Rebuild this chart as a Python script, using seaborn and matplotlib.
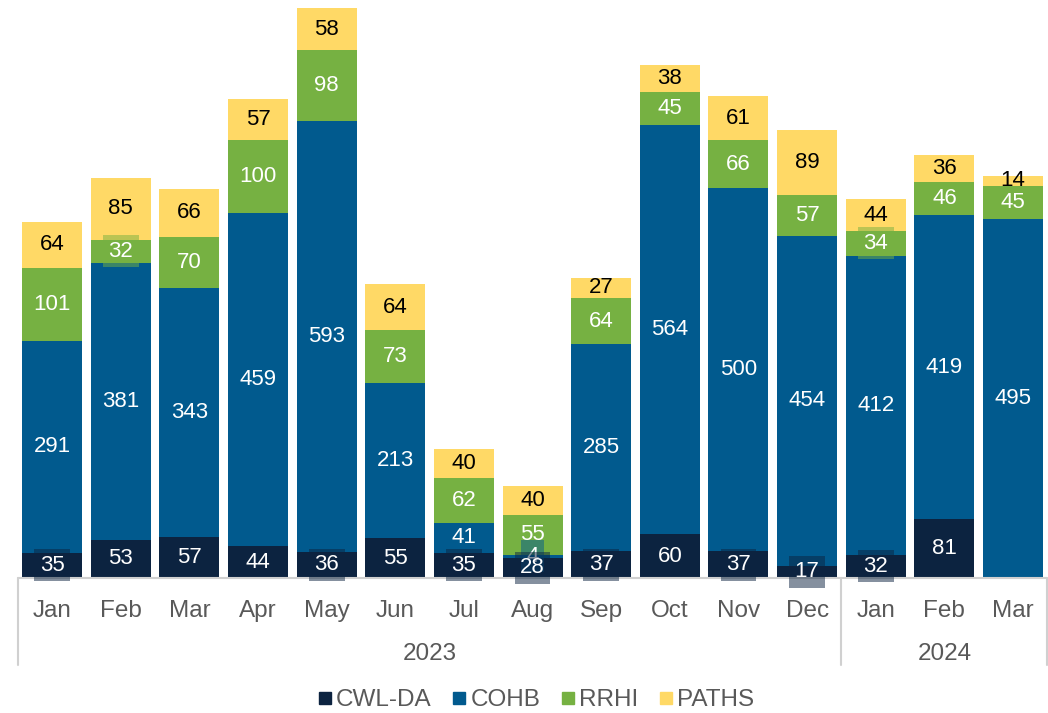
import pandas as pd
import numpy as np
import matplotlib.pyplot as plt
import matplotlib.transforms as mtransforms
from matplotlib.lines import Line2D
import seaborn as sns

# Datos del grafico
months = ["Jan", "Feb", "Mar", "Apr", "May", "Jun", "Jul", "Aug", "Sep", "Oct", "Nov", "Dec",
          "Jan", "Feb", "Mar"]
years = ["2023"] * 12 + ["2024"] * 3
cwl_da = [35, 53, 57, 44, 36, 55, 35, 28, 37, 60, 37, 17, 32, 81, 0]
cohb = [291, 381, 343, 459, 593, 213, 41, 4, 285, 564, 500, 454, 412, 419, 495]
rrhi = [101, 32, 70, 100, 98, 73, 62, 55, 64, 45, 66, 57, 34, 46, 45]
paths = [64, 85, 66, 57, 58, 64, 40, 40, 27, 38, 61, 89, 44, 36, 14]

series = ["CWL-DA", "COHB", "RRHI", "PATHS"]
colors = {"CWL-DA": "#0c2340", "COHB": "#015a8e", "RRHI": "#76b142", "PATHS": "#ffd966"}
text_colors = {"CWL-DA": "white", "COHB": "white", "RRHI": "white", "PATHS": "black"}

sns.set_style("white")
plt.rcParams["font.family"] = ["Liberation Sans", "DejaVu Sans"]

keys = [f"{y}-{m}" for y, m in zip(years, months)]
df = pd.DataFrame({"key": keys, "CWL-DA": cwl_da, "COHB": cohb, "RRHI": rrhi, "PATHS": paths})

# Acumulados para apilar las barras
cum = df[series].cumsum(axis=1)
bottoms = cum - df[series]

fig = plt.figure(figsize=(10.48, 7.13), dpi=100)
ax = fig.add_axes([0.0169, 0.1893, 0.9825, 0.8044])

# Dibujar de la capa superior a la inferior
for s in reversed(series):
    sns.barplot(x=df["key"], y=cum[s], order=keys, color=colors[s], width=0.874,
                saturation=1, ax=ax, edgecolor="none", linewidth=0)

ax.set_xlim(-0.5, len(keys) - 0.5)
ax.set_ylim(0, 790)
for sp in ax.spines.values():
    sp.set_visible(False)
ax.set_xticks([])
ax.set_yticks([])
ax.set_xlabel("")
ax.set_ylabel("")

# Etiquetas de datos (las de abajo se dibujan al final)
for s in reversed(series):
    for i in range(len(keys)):
        v = df.loc[i, s]
        if v == 0:
            continue
        yc = bottoms.loc[i, s] + v / 2
        bbox = None
        if s != "PATHS" and v < 40:
            bbox = dict(boxstyle="square,pad=0.25", facecolor=colors[s], alpha=0.5,
                        edgecolor="none")
        ax.text(i, yc, str(v), ha="center", va="center", fontsize=16,
                color=text_colors[s], bbox=bbox, zorder=5, clip_on=False)

# Eje de dos niveles (meses y años)
ax_h = 0.8044 * 713
trans = mtransforms.blended_transform_factory(ax.transData, ax.transAxes)
line_c = "#d0d0d0"
ax.plot([-0.5, len(keys) - 0.5], [0, 0], color=line_c, lw=1.5, transform=trans, clip_on=False)
for xb in [-0.5, 11.5, len(keys) - 0.5]:
    ax.plot([xb, xb], [0, -87 / ax_h], color=line_c, lw=1.5, transform=trans, clip_on=False)

for i, m in enumerate(months):
    ax.text(i, -33 / ax_h, m, ha="center", va="center", fontsize=17.5, color="#595959",
            transform=trans)

for yr in ["2023", "2024"]:
    idx = [i for i, y in enumerate(years) if y == yr]
    ax.text(np.mean(idx), -76 / ax_h, yr, ha="center", va="center", fontsize=17.5,
            color="#595959", transform=trans)

# Leyenda
handles = [Line2D([0], [0], marker="s", linestyle="none", markersize=8.5,
                  markerfacecolor=colors[s], markeredgecolor=colors[s]) for s in series]
fig.legend(handles, series, loc="center", bbox_to_anchor=(0.512, 0.018), ncol=4,
           frameon=False, fontsize=17.5, labelcolor="#595959", handlelength=0.5,
           handletextpad=0.2, columnspacing=0.9)

fig.savefig("out.png", dpi=100, facecolor="white")
